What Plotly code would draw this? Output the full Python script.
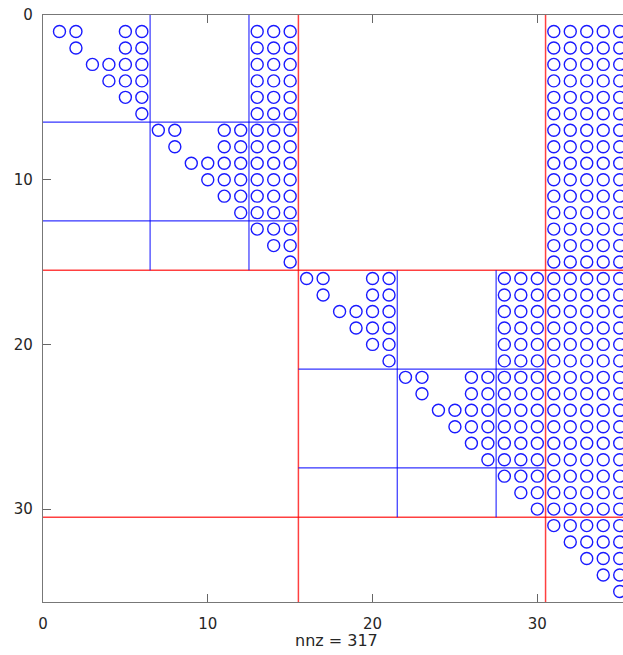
import plotly.graph_objects as go

# Sparsity pattern of a 35x35 upper-triangular factor after nested dissection
# Column offsets used in each row of a 6x6 leaf block (relative to the block start)
leaf_pattern = [[0, 1, 4, 5], [1, 4, 5], [2, 3, 4, 5], [3, 4, 5], [4, 5], [5]]
leaf_starts = [1, 7, 16, 22]
# Second-level separators: (first row/col, last row/col, leaf blocks coupled to it)
sep2 = [(13, 15, [1, 7]), (28, 30, [16, 22])]
# Top-level separator coupled to rows 1..30
sep1 = (31, 35, 30)

# Partition lines
red_cuts = [15.5, 30.5]
blue_parts = [(0, 15.5, [6.5, 12.5]), (15.5, 30.5, [21.5, 27.5])]

rows, cols = [], []
for s in leaf_starts:
    for i, offs in enumerate(leaf_pattern):
        for o in offs:
            rows.append(s + i)
            cols.append(s + o)
for a, b, leaves in sep2:
    for s in leaves:
        for i in range(len(leaf_pattern)):
            for c in range(a, b + 1):
                rows.append(s + i)
                cols.append(c)
    for r in range(a, b + 1):
        for c in range(r, b + 1):
            rows.append(r)
            cols.append(c)
a, b, nrows = sep1
for r in range(1, nrows + 1):
    for c in range(a, b + 1):
        rows.append(r)
        cols.append(c)
for r in range(a, b + 1):
    for c in range(r, b + 1):
        rows.append(r)
        cols.append(c)

fig = go.Figure()
fig.add_trace(go.Scatter(
    x=cols, y=rows, mode="markers",
    marker=dict(symbol="circle-open", size=12, color="#1a1aff",
                line=dict(width=1.4, color="#1a1aff")),
    hoverinfo="skip", showlegend=False,
))

shapes = []
red = dict(color="rgba(255,0,0,0.75)", width=1.5)
blue = dict(color="rgba(0,0,255,0.8)", width=1.2)
for c in red_cuts:
    shapes.append(dict(type="line", xref="x", yref="y domain", x0=c, x1=c, y0=0, y1=1, line=red))
    shapes.append(dict(type="line", xref="x domain", yref="y", x0=0, x1=1, y0=c, y1=c, line=red))
for lo, hi, cuts in blue_parts:
    for c in cuts:
        shapes.append(dict(type="line", xref="x", yref="y", x0=c, x1=c, y0=lo, y1=hi, line=blue))
        shapes.append(dict(type="line", xref="x", yref="y", x0=lo, x1=hi, y0=c, y1=c, line=blue))

axis_font = dict(family="DejaVu Sans", size=15, color="#262626")
fig.update_layout(
    width=623, height=655,
    margin=dict(l=43, r=0, t=15, b=53),
    paper_bgcolor="white", plot_bgcolor="white",
    shapes=shapes,
    xaxis=dict(range=[0, 35.2], tickvals=[0, 10, 20, 30], ticks="inside", ticklen=8,
               tickcolor="#666666", showline=True, linecolor="#777777", linewidth=1.3,
               mirror="ticks", showgrid=False, zeroline=False, tickfont=axis_font,
               ticklabelstandoff=8),
    yaxis=dict(range=[35.64, 0], tickvals=[0, 10, 20, 30], ticks="inside", ticklen=8,
               tickcolor="#666666", showline=True, linecolor="#777777", linewidth=1.3,
               mirror=False, showgrid=False, zeroline=False, tickfont=axis_font,
               ticklabelstandoff=6),
    annotations=[dict(text="nnz = 317", xref="paper", yref="paper", x=0.5066, y=0,
                      yshift=-38, yanchor="middle", showarrow=False,
                      font=dict(family="DejaVu Sans", size=16, color="#262626"))],
)

fig.write_html("out.html")
